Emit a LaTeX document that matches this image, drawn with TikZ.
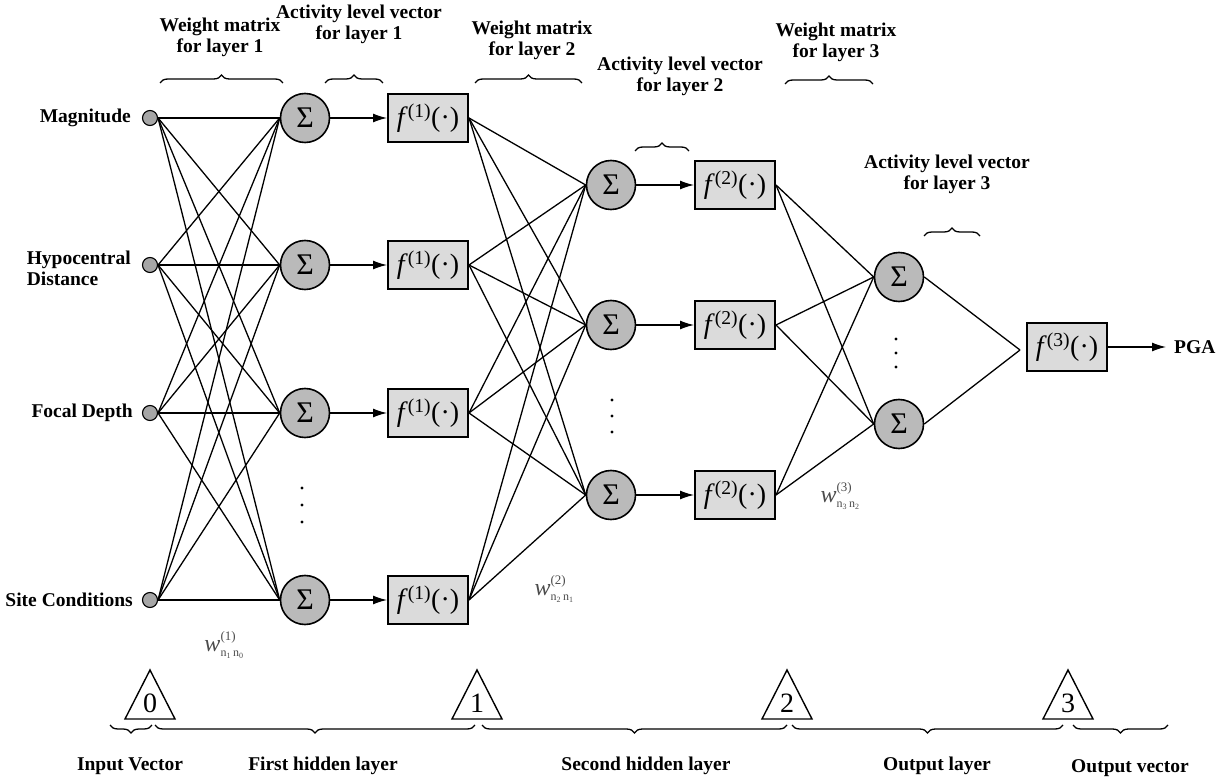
\documentclass[tikz,border=0pt]{standalone}
\usepackage{fontspec}
\setmainfont{Liberation Serif}
\usetikzlibrary{arrows.meta,decorations.pathreplacing,calc}
\newcommand{\wlab}[3]{{\fontsize{24}{24}\selectfont\textit{w}}\makebox[0pt][l]{\raisebox{11pt}{\fontsize{13}{13}\selectfont(#1)}}\raisebox{-5pt}{\fontsize{12}{12}\selectfont n\textsubscript{#2}\,n\textsubscript{#3}}}
\begin{document}
\begin{tikzpicture}[x=1pt,y=-1pt,
  inp/.style={circle,draw,fill=black!35,minimum size=15pt,inner sep=0,line width=1.1pt},
  sum/.style={circle,draw,fill=black!27,minimum size=49pt,inner sep=0,line width=1.6pt,font=\fontsize{30}{30}\selectfont},
  fbox/.style={draw,fill=black!14,minimum width=80pt,minimum height=48pt,inner sep=0,line width=2pt,font=\fontsize{28}{28}\selectfont},
  lbl/.style={font=\bfseries\fontsize{19.5}{21}\selectfont,align=center,inner sep=0},
  conn/.style={line width=1.3pt},
  arr/.style={line width=1.3pt,-{Latex[length=14pt,width=9pt]}},
  brc/.style={line width=1.3pt,decorate,decoration={brace,amplitude=8pt}},
  wl/.style={text=black!70,inner sep=0},
  tri/.style={line width=1.4pt},
  trin/.style={font=\fontsize{28}{28}\selectfont,inner sep=0}
]
\useasboundingbox (0,0) rectangle (1227,783);

% input nodes
\node[inp] (i1) at (150,118) {};
\node[inp] (i2) at (150,265) {};
\node[inp] (i3) at (150,413) {};
\node[inp] (i4) at (150,600) {};
\node[lbl,anchor=east] (l1) at (131,118) {Magnitude};
\node[lbl,anchor=east,align=left] (l2) at (131,268) {Hypocentral\\Distance};
\node[lbl,anchor=east] (l3) at (133,413) {Focal Depth};
\node[lbl,anchor=east] (l4) at (133,600) {Site Conditions};

% layer 1
\foreach \k/\y in {1/118,2/265,3/413,4/600}{
  \node[sum] (sa\k) at (305,\y) {Σ};
  \node[fbox] (fa\k) at (428,\y) {\textit{f}\textsuperscript{(1)}(·)};
  \draw[arr] (sa\k.east) -- (fa\k.west);
}
% layer 2
\foreach \k/\y in {1/185,2/325,3/495}{
  \node[sum] (sb\k) at (611,\y) {Σ};
  \node[fbox] (fb\k) at (735,\y) {\textit{f}\textsuperscript{(2)}(·)};
  \draw[arr] (sb\k.east) -- (fb\k.west);
}
% layer 3
\node[sum] (sc1) at (899,277) {Σ};
\node[sum] (sc2) at (899,424) {Σ};
\node[fbox] (fc) at (1067,347) {\textit{f}\textsuperscript{(3)}(·)};
\coordinate (j) at ($(fc.west)+(-6,3)$);
\node[font=\bfseries\fontsize{19.5}{21}\selectfont,anchor=west,inner sep=0] (pga) at (1174,347) {PGA};
\draw[arr] (fc.east) -- ($(pga.west)+(-8,0)$);

% connections
\foreach \a in {1,...,4}{\foreach \b in {1,...,4}{\draw[conn] (i\a.east) -- (sa\b.west);}}
\foreach \a in {1,...,4}{\foreach \b in {1,...,3}{\draw[conn] (fa\a.east) -- (sb\b.west);}}
\foreach \a in {1,...,3}{\foreach \b in {1,...,2}{\draw[conn] (fb\a.east) -- (sc\b.west);}}
\draw[conn] (sc1.east) -- (j);
\draw[conn] (sc2.east) -- (j);

% dots
\foreach \y in {488,505,522}{\fill (302,\y) circle (1.7);}
\foreach \y in {400,416,432}{\fill (612,\y) circle (1.7);}
\foreach \y in {339,353,367}{\fill (896,\y) circle (1.7);}

% weight labels
\node[wl] (w1) at (224,645) {\wlab{1}{1}{0}};
\node[wl] (w2) at (554,589) {\wlab{2}{2}{1}};
\node[wl] (w3) at (840,496) {\wlab{3}{3}{2}};

% top labels and braces
\node[lbl] (t1) at (220,37) {Weight matrix\\for layer 1};
\node[lbl] (t2) at (359,24) {Activity level vector\\for layer 1};
\node[lbl] (t3) at (532,40) {Weight matrix\\for layer 2};
\node[lbl] (t4) at (680,76) {Activity level vector\\for layer 2};
\node[lbl] (t5) at (836,42) {Weight matrix\\for layer 3};
\node[lbl] (t6) at (947,174) {Activity level vector\\for layer 3};
\draw[brc] (160,83) -- (283,83);
\draw[brc] (325,83) -- (383,83);
\draw[brc] (475,83) -- (582,83);
\draw[brc] (635,151) -- (689,151);
\draw[brc] (785,84) -- (873,84);
\draw[brc] (924,236) -- (980,236);

% bottom triangles
\foreach \n/\x in {0/150,1/477,2/787,3/1068}{
  \draw[tri] (\x,670) -- (\x+25,719) -- (\x-25,719) -- cycle;
  \node[trin] (tn\n) at (\x,703) {\n};
}
% bottom braces
\draw[brc] (152,725) -- (110,725);
\draw[brc] (475,725) -- (155,725);
\draw[brc] (787,725) -- (482,725);
\draw[brc] (1063,725) -- (792,725);
\draw[brc] (1168,725) -- (1073,725);
\node[lbl] (b0) at (130,766) {Input Vector};
\node[lbl] (b1) at (323,766) {First hidden layer};
\node[lbl] (b2) at (646,766) {Second hidden layer};
\node[lbl] (b3) at (937,766) {Output layer};
\node[lbl] (b4) at (1130,768) {Output vector};
\end{tikzpicture}
\end{document}
